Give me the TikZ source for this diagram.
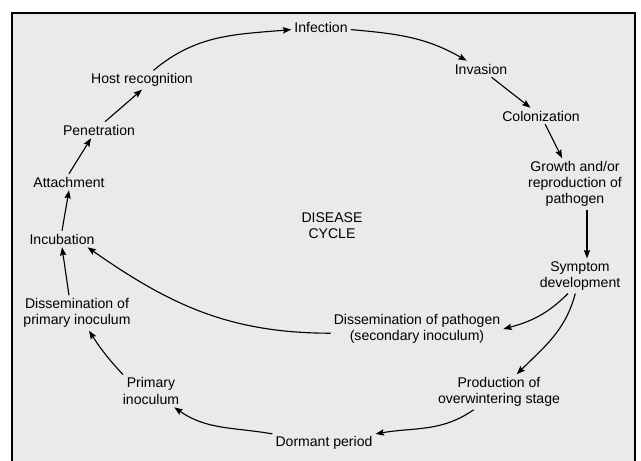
\documentclass[tikz,border=0pt]{standalone}
\usepackage{fontspec}
\setmainfont{Liberation Sans}
\usetikzlibrary{arrows.meta}
\definecolor{cyclegrey}{RGB}{234,234,234}
\tikzset{
    stage/.style={align=center, inner sep=2pt, font=\fontsize{10}{11.5}\selectfont},
    cyclearrow/.style={-{Stealth[length=6pt,width=4.5pt,inset=1pt]}, line width=0.8pt}
}

\begin{document}
\begin{tikzpicture}
    \useasboundingbox (0,0) rectangle (16.025,11.525);
    % Frame
    \begin{scope}
        \clip (0,0) rectangle (16.025,11.525);
        \draw[fill=cyclegrey, line width=1.2pt] (0.3,-0.5) rectangle (15.875,11.2);
    \end{scope}

    % Stages of the cycle
    \node[stage] (infection) at (8.025,10.85) {Infection};
    \node[stage] (invasion) at (12.025,9.8) {Invasion};
    \node[stage] (colonization) at (13.525,8.625) {Colonization};
    \node[stage] (growth) at (14.375,6.925) {Growth and/or\\reproduction of\\pathogen};
    \node[stage] (symptom) at (14.5,4.625) {Symptom\\development};
    \node[stage] (secondary) at (10.425,3.3) {Dissemination of pathogen\\(secondary inoculum)};
    \node[stage] (overwinter) at (12.475,1.725) {Production of\\overwintering stage};
    \node[stage] (dormant) at (8.1,0.45) {Dormant period};
    \node[stage] (primary) at (3.775,1.75) {Primary\\inoculum};
    \node[stage] (dissprimary) at (1.925,3.7) {Dissemination of\\primary inoculum};
    \node[stage] (incubation) at (1.55,5.55) {Incubation};
    \node[stage] (attachment) at (1.725,6.975) {Attachment};
    \node[stage] (penetration) at (2.475,8.275) {Penetration};
    \node[stage] (hostrec) at (3.55,9.525) {Host recognition};

    % Centre label
    \node[stage] (cycle) at (8.3,5.875) {DISEASE\\CYCLE};

    % Arrows, clockwise
    \draw[cyclearrow] (hostrec) to[out=40,in=185] (infection);
    \draw[cyclearrow] (infection) to[out=-5,in=150] (invasion);
    \draw[cyclearrow] (invasion) -- (colonization);
    \draw[cyclearrow] (colonization) -- (growth);
    \draw[cyclearrow] ([xshift=0.3cm]growth.south) -- ([xshift=0.3cm]growth.south |- symptom.north);
    \draw[cyclearrow] ([xshift=-0.3cm]symptom.south) to[out=-135,in=15] (secondary.east);
    \draw[cyclearrow] (symptom) to[out=-105,in=45] (overwinter);
    \draw[cyclearrow] (overwinter) to[out=-145,in=10] (dormant);
    \draw[cyclearrow] (dormant) to[out=170,in=-35] (primary);
    \draw[cyclearrow] ([xshift=-0.7cm]primary.north) to[bend left=5] ([xshift=0.3cm]dissprimary.south);
    \draw[cyclearrow] ([xshift=-0.2cm]dissprimary.north) -- (incubation.south);
    \draw[cyclearrow] ([yshift=-3pt]secondary.west) to[out=180,in=-35] ([xshift=-0.25cm]incubation.south east);
    \draw[cyclearrow] (incubation.north) -- (attachment.south);
    \draw[cyclearrow] (attachment.north) -- ([xshift=-0.2cm]penetration.south);
    \draw[cyclearrow] ([xshift=0.15cm]penetration.north) -- (hostrec.south);
\end{tikzpicture}
\end{document}
